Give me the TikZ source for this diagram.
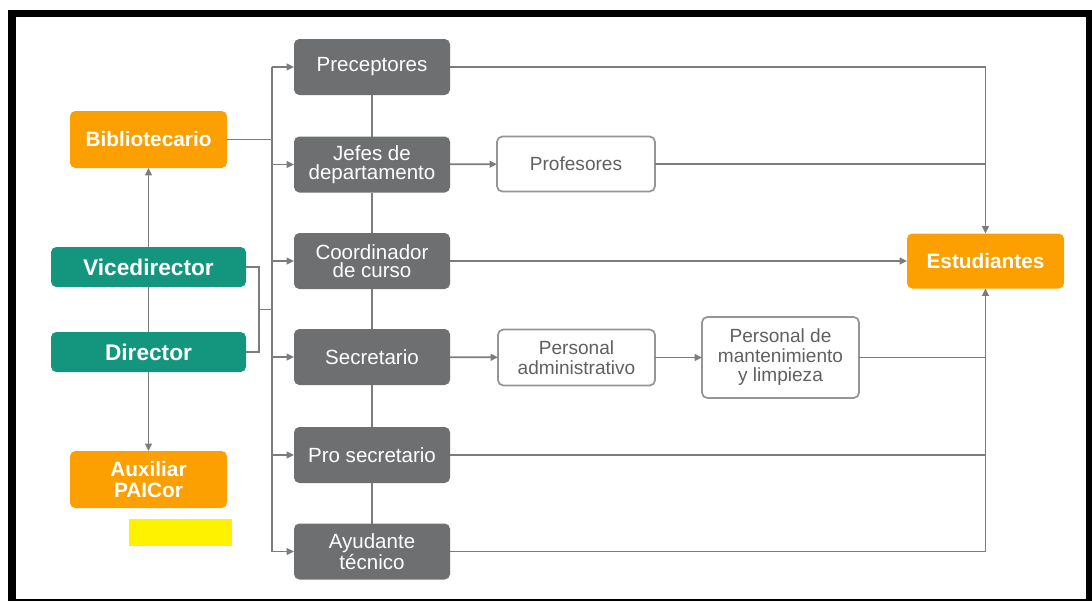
\documentclass[tikz,border=0pt]{standalone}
\usepackage{fontspec}
\setmainfont{Liberation Sans}
\usetikzlibrary{arrows.meta}
\definecolor{orng}{HTML}{FBA000}
\definecolor{teal2}{HTML}{13957E}
\definecolor{gbox}{HTML}{6E6F71}
\definecolor{lgray}{HTML}{7C7C7C}
\definecolor{wtext}{HTML}{606060}
\definecolor{wborder}{HTML}{959595}
\tikzset{
  base/.style={rounded corners=4pt, inner sep=0pt, outer sep=0pt, align=center},
  orangebox/.style={base, fill=orng, text=white, font=\fontsize{15.6}{15.8}\selectfont\bfseries,
     minimum width=117.75pt, minimum height=42.75pt},
  tealbox/.style={base, fill=teal2, text=white, font=\fontsize{17}{18}\selectfont\bfseries,
     minimum width=146.25pt, minimum height=30pt},
  graybox/.style={base, fill=gbox, text=white, font=\fontsize{15.4}{14}\selectfont,
     minimum width=117pt, minimum height=42pt},
  whitebox/.style={base, draw=wborder, line width=1.3pt, fill=white, text=wtext,
     font=\fontsize{14.3}{14.6}\selectfont, minimum width=117.75pt, minimum height=42pt},
  link/.style={draw=lgray, line width=1.4pt},
  arr/.style={link, -{Triangle[length=5.5pt,width=5pt]}, color=lgray},
}
\begin{document}
\begin{tikzpicture}[x=0.75pt,y=-0.75pt]
\useasboundingbox (0,0) rectangle (1092,601);
\fill[black] (8,10) rectangle (1092,601);
\fill[white] (16,17) rectangle (1086,598.5);

% left column
\node[orangebox] (bib) at (148.5,139.5) {Bibliotecario};
\node[tealbox] (vice) at (148.5,267) {Vicedirector};
\node[tealbox] (dir) at (148.5,352) {Director};
\node[orangebox] (aux) at (148.5,479.5) {Auxiliar\\PAICor};
\fill[yellow] (129,519) rectangle (232,546);

% gray column
\node[graybox] (g1) at (372,67) {Preceptores};
\node[graybox] (g2) at (372,164.5) {Jefes de\\departamento};
\node[graybox] (g3) at (372,261) {Coordinador\\de curso};
\node[graybox] (g4) at (372,357) {Secretario};
\node[graybox] (g5) at (372,455) {Pro secretario};
\node[graybox] (g6) at (372,551.5) {Ayudante\\técnico};

% white boxes
\node[whitebox, minimum width=118.5pt, minimum height=41.25pt] (prof) at (576,164) {Profesores};
\node[whitebox] (padm) at (576.5,357.5) {Personal\\administrativo};
\node[whitebox, minimum height=60.75pt] (mant) at (780.5,357.5) {Personal de\\mantenimiento\\y limpieza};

% estudiantes
\node[orangebox, minimum height=41.25pt] (est) at (985.5,261) {Estudiantes};

% coordinates
\coordinate (bus) at (272,0);
\coordinate (j) at (259,309.5);

% left vertical
\draw[arr] (vice) -- (bib);
\draw[link] (vice) -- (dir);
\draw[arr] (dir) -- (aux);

% gray spine
\draw[link] (g1) -- (g2);
\draw[link] (g2) -- (g3);
\draw[link] (g3) -- (g4);
\draw[link] (g4) -- (g5);
\draw[link] (g5) -- (g6);

% bus
\draw[link] (g1.west -| bus) -- (g6.west -| bus);
\draw[link] (bib.east) -- (bib.east -| bus);
\draw[link] (vice.east) -| (j);
\draw[link] (dir.east) -| (j);
\draw[link] (j) -- (j -| bus);
\foreach \g in {g1,g2,g3,g4,g5,g6} {
  \draw[arr] (\g.west -| bus) -- (\g.west);
}

% middle
\draw[arr] (g2) -- (prof);
\draw[arr] (g4) -- (padm);
\draw[arr] (padm) -- (mant);

% right
\draw[arr] (g1.east) -| (est.north);
\draw[link] (prof.east) -- (prof.east -| est);
\draw[arr] (g3) -- (est);
\draw[arr] (g6.east) -| (est.south);
\draw[link] (g5.east) -- (g5.east -| est);
\draw[link] (mant.east) -- (mant.east -| est);
\end{tikzpicture}
\end{document}
